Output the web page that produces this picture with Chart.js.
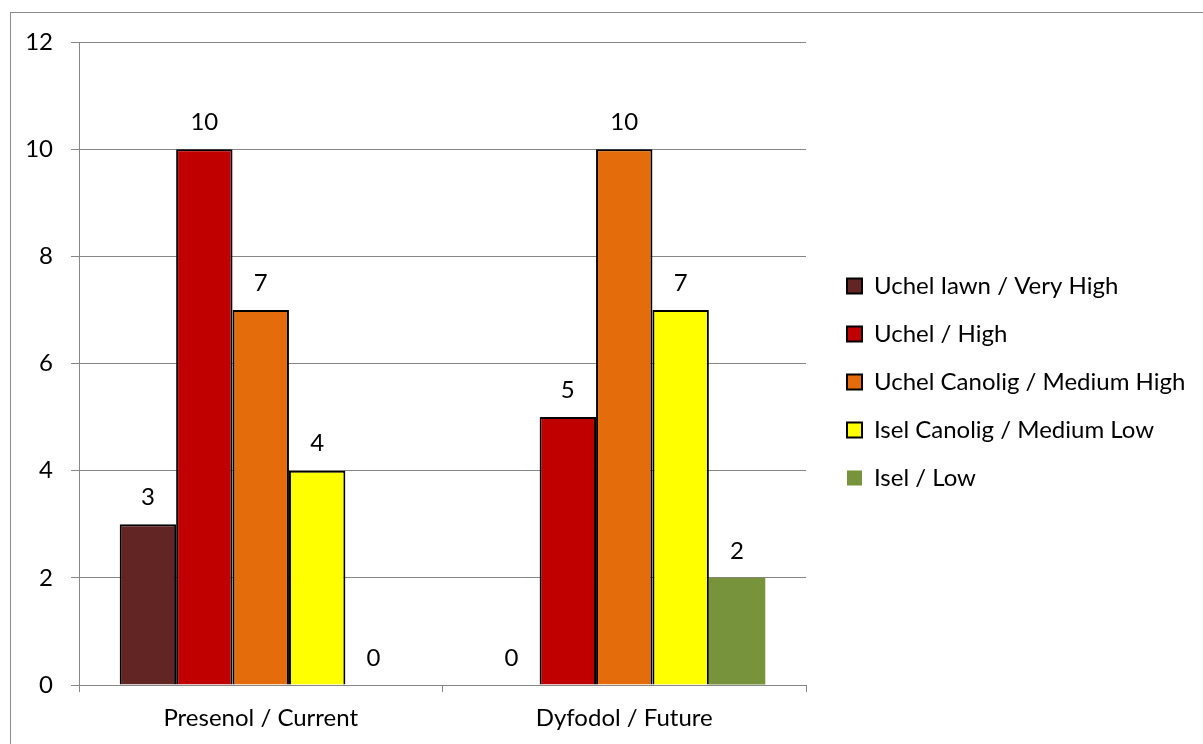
<!DOCTYPE html>
<html>
<head>
<meta charset="utf-8">
<script src="https://cdn.jsdelivr.net/npm/chart.js@4.4.1/dist/chart.umd.min.js"></script>
<style>
    body { margin: 0; background: #fff; overflow: hidden; }
    #frame { position: absolute; left: 10px; top: 12px; width: 1260px; height: 800px; border: 1px solid #8c8c8c; }
    #wrap { position: absolute; left: 0; top: 0; width: 1203px; height: 744px; }
</style>
</head>
<body>
<div id="frame"></div>
<div id="wrap"><canvas id="riskChart"></canvas></div>
<script>
// Data
const categories = ["Presenol / Current", "Dyfodol / Future"];
const seriesNames = [
    "Uchel Iawn / Very High",
    "Uchel / High",
    "Uchel Canolig / Medium High",
    "Isel Canolig / Medium Low",
    "Isel / Low"
];
const veryHigh = [3, 0];
const high = [10, 5];
const mediumHigh = [7, 10];
const mediumLow = [4, 7];
const low = [0, 2];
const yTicks = [0, 2, 4, 6, 8, 10, 12];

const FONT = "Lato, 'Open Sans', sans-serif";
const GRID = "#868686";

// ::::: value labels above the bars :::::
const barValues = {
    id: "barValues",
    afterDatasetsDraw(chart) {
        const ctx = chart.ctx;
        ctx.save();
        ctx.font = "24px " + FONT;
        ctx.fillStyle = "#000";
        ctx.textAlign = "center";
        ctx.textBaseline = "middle";
        chart.data.datasets.forEach((ds, i) => {
            chart.getDatasetMeta(i).data.forEach((bar, j) => {
                ctx.fillText(ds.data[j], bar.x, bar.y - 27);
            });
        });
        ctx.restore();
    }
};

// ::::: legend sits in a fixed column on the right :::::
const legendPlace = {
    id: "legendPlace",
    beforeLayout(chart) {
        const legend = chart.legend;
        if (legend && !legend.patched) {
            const fit = legend.fit;
            legend.fit = function () {
                fit.call(this);
                this.width = 397;
            };
            legend.patched = true;
        }
    },
    afterLayout(chart) {
        const legend = chart.legend;
        legend.left += 17;
        legend.right += 17;
        legend.top -= 11;
        legend.bottom -= 11;
    }
};

var ctx = document.getElementById("riskChart");
var riskChart = new Chart(ctx, {
    type: "bar",
    data: {
        labels: categories,
        datasets: [
            { label: seriesNames[0], data: veryHigh, backgroundColor: "#632523", borderColor: "#000", borderWidth: 2 },
            { label: seriesNames[1], data: high, backgroundColor: "#C00000", borderColor: "#000", borderWidth: 2 },
            { label: seriesNames[2], data: mediumHigh, backgroundColor: "#E46C0A", borderColor: "#000", borderWidth: 2 },
            { label: seriesNames[3], data: mediumLow, backgroundColor: "#FFFF00", borderColor: "#000", borderWidth: 2 },
            { label: seriesNames[4], data: low, backgroundColor: "#77933C", borderColor: "#77933C", borderWidth: 0 }
        ]
    },
    options: {
        responsive: true,
        maintainAspectRatio: false,
        animation: false,
        layout: { padding: { top: 42, left: 0, right: 0, bottom: 0 } },
        datasets: {
            bar: { categoryPercentage: 0.776, barPercentage: 1 }
        },
        scales: {
            x: {
                grid: { display: true, drawOnChartArea: false, drawTicks: true, tickLength: 7, color: GRID, offset: true },
                border: { color: GRID, width: 1 },
                ticks: { color: "#000", font: { family: FONT, size: 24 }, padding: 12 },
                afterFit(scale) { scale.height = 59; }
            },
            y: {
                min: 0,
                max: 12,
                afterBuildTicks(scale) { scale.ticks = yTicks.map(v => ({ value: v })); },
                grid: { color: GRID, tickLength: 8 },
                border: { color: GRID, width: 1 },
                ticks: { color: "#000", font: { family: FONT, size: 24 }, padding: 18 },
                afterFit(scale) { scale.width = 79; }
            }
        },
        plugins: {
            legend: {
                position: "right",
                align: "center",
                labels: {
                    color: "#000",
                    font: { family: FONT, size: 24 },
                    boxWidth: 15,
                    boxHeight: 15,
                    padding: 24
                }
            },
            tooltip: { enabled: false }
        }
    },
    plugins: [barValues, legendPlace]
});
</script>
</body>
</html>
